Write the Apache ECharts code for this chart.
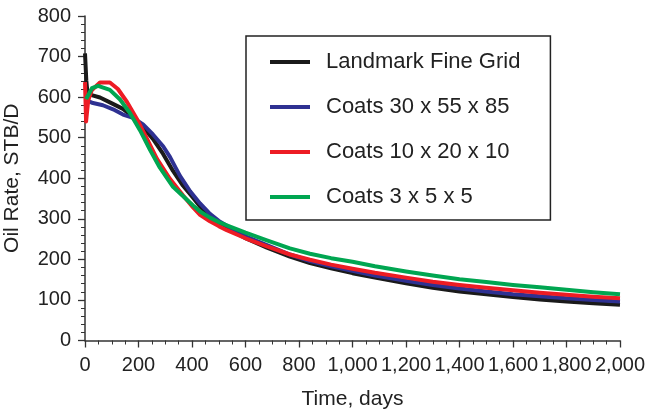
<!DOCTYPE html>
<html>
<head>
<meta charset="utf-8">
<script src="https://cdn.jsdelivr.net/npm/echarts@6/dist/echarts.min.js"></script>
<style>
html,body{margin:0;padding:0;background:#fff;}
#chart{width:645px;height:410px;}
</style>
</head>
<body>
<div id="chart"></div>
<script>
const seriesNames = ["Landmark Fine Grid", "Coats 30 x 55 x 85", "Coats 10 x 20 x 10", "Coats 3 x 5 x 5"];
const xTicks = [0, 200, 400, 600, 800, 1000, 1200, 1400, 1600, 1800, 2000];
const yTicks = [0, 100, 200, 300, 400, 500, 600, 700, 800];

// [time (days), oil rate (STB/D)]
const landmarkFine = [[0,708],[5,640],[9,612],[25,605],[56,599],[93,587],[142,571],[180,551],[217,526],[254,497],[292,460],[329,418],[366,382],[404,352],[430,330],[467,306],[500,290],[530,278],[600,252],[680,229],[766,207],[841,191],[920,178],[1000,166],[1084,155],[1200,141],[1300,130],[1400,121],[1500,114],[1600,107],[1700,101],[1800,96],[1900,92],[2000,88]];
const coats30 = [[8,592],[26,586],[67,580],[105,570],[142,557],[180,549],[217,533],[254,508],[292,479],[318,452],[355,406],[393,368],[430,338],[467,312],[500,295],[530,283],[600,257],[680,235],[766,212],[841,196],[920,183],[1000,172],[1084,160],[1200,147],[1300,137],[1400,128],[1500,121],[1600,114],[1700,109],[1800,104],[1900,100],[2000,96]];
const coats10 = [[0,637],[4,540],[12,592],[25,617],[56,636],[93,636],[123,620],[157,588],[194,546],[232,497],[269,448],[318,398],[366,358],[404,328],[430,310],[467,294],[500,282],[530,272],[600,252],[680,232],[766,212],[841,199],[920,187],[1000,177],[1084,167],[1200,155],[1300,145],[1400,137],[1500,130],[1600,124],[1700,118],[1800,113],[1900,108],[2000,104]];
const coats3 = [[4,595],[26,622],[49,628],[93,618],[131,594],[168,561],[206,518],[243,470],[280,426],[329,379],[381,347],[404,333],[430,318],[467,303],[500,292],[530,284],[600,266],[680,247],[766,227],[841,214],[920,203],[1000,194],[1084,183],[1200,170],[1300,160],[1400,151],[1500,144],[1600,137],[1700,131],[1800,125],[1900,119],[2000,114]];

const seriesData = [landmarkFine, coats30, coats10, coats3];
const colors = ["#1a1a1a", "#2e3192", "#ed1c24", "#00a651"];

const font = "Liberation Sans, Arial, Helvetica, sans-serif";
const chart = echarts.init(document.getElementById('chart'));
chart.setOption({
  animation: false,
  backgroundColor: '#ffffff',
  grid: {left: 85, right: 25, top: 16, bottom: 69.5, outerBoundsMode: 'none', containLabel: false},
  legend: {
    orient: 'vertical',
    left: 246, top: 36,
    padding: [15, 30, 12, 24],
    borderColor: '#222', borderWidth: 1.5,
    itemWidth: 40, itemHeight: 4, itemGap: 23,
    icon: 'rect',
    textStyle: {fontFamily: font, fontSize: 22, color: '#222', lineHeight: 22, padding: [0,0,0,11]},
    data: seriesNames
  },
  xAxis: {
    type: 'value', min: xTicks[0], max: xTicks[xTicks.length-1], interval: 200,
    name: 'Time, days', nameLocation: 'middle', nameGap: 48,
    nameTextStyle: {fontFamily: font, fontSize: 21, color: '#222'},
    axisLine: {show: true, lineStyle: {color: '#333', width: 1.5}},
    axisTick: {show: true, length: 7, lineStyle: {color: '#333', width: 1.3}},
    minorTick: {show: true, splitNumber: 4, length: 4, lineStyle: {color: '#333', width: 1}},
    splitLine: {show: false},
    axisLabel: {fontFamily: font, fontSize: 20, color: '#222', margin: 15, hideOverlap: false,
      formatter: v => v.toLocaleString('en-US')}
  },
  yAxis: {
    type: 'value', min: yTicks[0], max: yTicks[yTicks.length-1], interval: 100,
    name: 'Oil Rate, STB/D', nameLocation: 'middle', nameGap: 62,
    nameTextStyle: {fontFamily: font, fontSize: 21, color: '#222'},
    axisLine: {show: true, lineStyle: {color: '#333', width: 1.5}},
    axisTick: {show: true, length: 7, lineStyle: {color: '#333', width: 1.3}},
    minorTick: {show: true, splitNumber: 5, length: 4, lineStyle: {color: '#333', width: 1}},
    splitLine: {show: false},
    axisLabel: {fontFamily: font, fontSize: 20, color: '#222', margin: 14}
  },
  series: seriesNames.map((n, i) => ({
    name: n, type: 'line', data: seriesData[i], showSymbol: false,
    smooth: false,
    lineStyle: {color: colors[i], width: 4, join: 'round'},
    itemStyle: {color: colors[i]},
    z: 2 + i
  }))
});
</script>
</body>
</html>
